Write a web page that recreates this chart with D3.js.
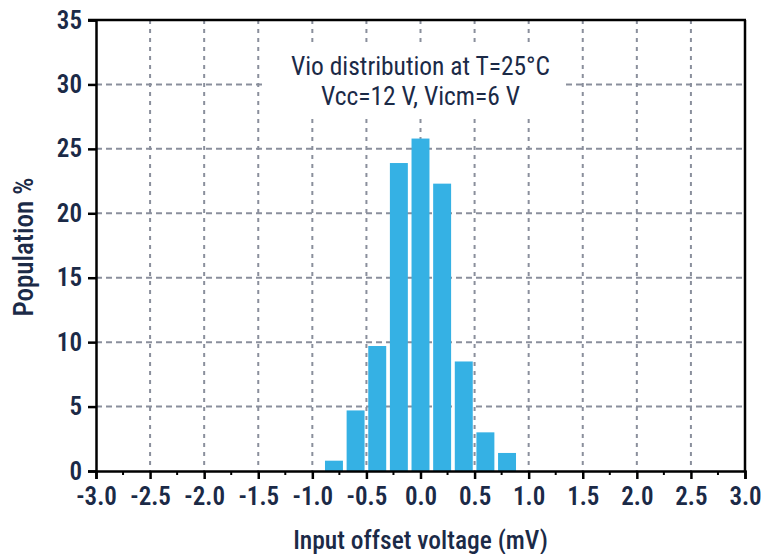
<!DOCTYPE html>
<html><head><meta charset="utf-8">
<script src="https://cdn.jsdelivr.net/npm/d3@7"></script>
<style>
html,body{margin:0;padding:0;background:#fff;}
text{font-family:"Roboto Condensed","Liberation Sans Narrow","DejaVu Sans Condensed",sans-serif;fill:#1b2a47;}
</style></head>
<body><svg id="c" width="763" height="554"></svg>
<script>
const binCenters = [-0.8, -0.6, -0.4, -0.2, 0.0, 0.2, 0.4, 0.6, 0.8];
const population = [0.8, 4.7, 9.7, 23.9, 25.8, 22.3, 8.5, 3.0, 1.4];
const xTicks = [-3.0, -2.5, -2.0, -1.5, -1.0, -0.5, 0.0, 0.5, 1.0, 1.5, 2.0, 2.5, 3.0];
const yTicks = [0, 5, 10, 15, 20, 25, 30, 35];
const titleLines = ["Vio distribution at T=25°C", "Vcc=12 V, Vicm=6 V"];
const xTitle = "Input offset voltage (mV)";
const yTitle = "Population %";

const FONT = '"Roboto Condensed","Liberation Sans Narrow","DejaVu Sans Condensed",sans-serif';
const svg = d3.select("#c");
const L = 96, R = 745, T = 20, B = 471;
const x = d3.scaleLinear().domain([-3, 3]).range([L, R]);
const y = d3.scaleLinear().domain([0, 35]).range([B, T]);
const gridColor = "#8a8f9c";

// grid
const g = svg.append("g");
g.selectAll("line.v").data(xTicks.filter(d => d > -3 && d < 3)).join("line")
  .attr("x1", d => x(d)).attr("x2", d => x(d)).attr("y1", T).attr("y2", B)
  .attr("stroke", gridColor).attr("stroke-width", 2).attr("stroke-dasharray", "4,5");
g.selectAll("line.h").data(yTicks.filter(d => d > 0 && d < 35)).join("line")
  .attr("x1", L).attr("x2", R).attr("y1", d => y(d)).attr("y2", d => y(d))
  .attr("stroke", gridColor).attr("stroke-width", 2).attr("stroke-dasharray", "6,4");

// annotation backdrop
svg.append("rect").attr("x", 266).attr("y", 44).attr("width", 296).attr("height", 70).attr("fill", "#fff");
svg.selectAll("text.ann").data(titleLines).join("text")
  .attr("x", x(0)).attr("y", (d, i) => 75 + i * 30)
  .attr("text-anchor", "middle").attr("font-size", 25.5).text(d => d);

// bars
const step = x(0.2) - x(0);
const bw = step * 0.83;
svg.selectAll("rect.bar").data(population).join("rect")
  .attr("x", (d, i) => x(binCenters[i]) - bw / 2).attr("width", bw)
  .attr("y", d => y(d)).attr("height", d => B - y(d))
  .attr("fill", "#35b1e4");

// frame top/right
svg.append("line").attr("x1", L - 8).attr("x2", R + 1).attr("y1", T).attr("y2", T).attr("stroke", "#000").attr("stroke-width", 2.5);
svg.append("line").attr("x1", R).attr("x2", R).attr("y1", T).attr("y2", B).attr("stroke", "#000").attr("stroke-width", 2.5);

// x axis
const xa = svg.append("g").attr("transform", `translate(0,${B})`)
  .call(d3.axisBottom(x).tickValues(xTicks).tickFormat(d3.format(".1f")).tickSize(8).tickPadding(8));
const minor = d3.range(-2.75, 3, 0.5);
svg.append("g").selectAll("line").data(minor).join("line")
  .attr("x1", d => x(d)).attr("x2", d => x(d)).attr("y1", B).attr("y2", B + 4)
  .attr("stroke", "#000").attr("stroke-width", 2);
// y axis
const ya = svg.append("g").attr("transform", `translate(${L},0)`)
  .call(d3.axisLeft(y).tickValues(yTicks).tickSize(8).tickPadding(6));
[xa, ya].forEach(a => {
  a.select(".domain").attr("stroke", "#000").attr("stroke-width", 2.5);
  a.selectAll(".tick line").attr("stroke", "#000").attr("stroke-width", 2.5);
  a.selectAll(".tick text").attr("font-size", 25).attr("font-weight", 600).attr("fill", "#1b2a47")
    .style("font-family", FONT);
});
xa.selectAll(".tick text").text(d => d3.format(".1f")(d).replace("−", "-"));

svg.append("text").attr("x", (L + R) / 2).attr("y", 549).attr("text-anchor", "middle")
  .attr("font-size", 25.5).attr("font-weight", 500).text(xTitle);
svg.append("text").attr("transform", `translate(33,247) rotate(-90)`)
  .attr("text-anchor", "middle").attr("font-size", 27).attr("font-weight", 500).text(yTitle);
</script></body></html>
